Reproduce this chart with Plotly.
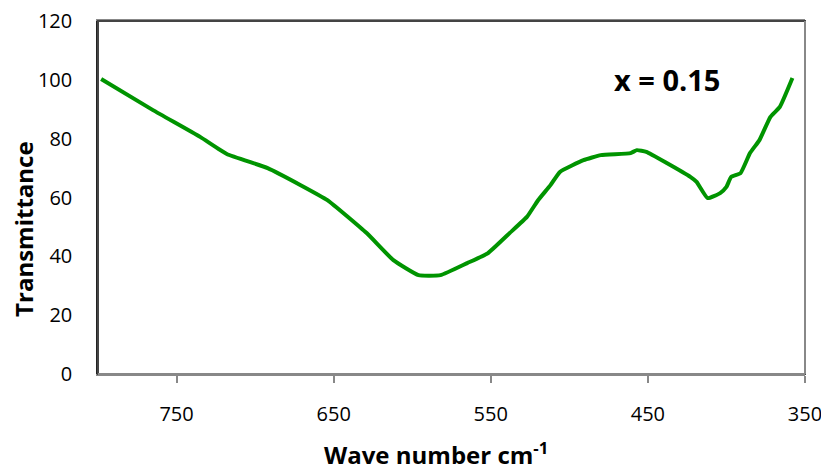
import plotly.graph_objects as go

wavenumber = [798, 765, 735, 718, 692, 671, 654, 629, 612, 596, 582, 565, 552, 538, 527, 520,
              512, 506, 491, 480, 461, 457, 451, 438, 423, 419, 412, 404, 400, 397, 391, 385,
              379, 372, 366, 358]
transmittance = [100.3, 89.7, 80.6, 74.8, 70.0, 64.2, 59.1, 47.9, 38.7, 33.6, 33.6, 37.7, 41.0,
                 47.9, 53.4, 59.0, 64.2, 68.7, 72.7, 74.4, 75.1, 76.1, 75.5, 71.7, 67.0, 65.3,
                 59.8, 61.5, 63.6, 67.0, 68.3, 75.1, 79.5, 87.4, 90.8, 100.6]
x_ticks = [750, 650, 550, 450, 350]
y_ticks = [0, 20, 40, 60, 80, 100, 120]

fig = go.Figure()
fig.add_trace(go.Scatter(x=wavenumber, y=transmittance, mode="lines",
                         line=dict(color="#009400", width=4, shape="spline", smoothing=0.4),
                         showlegend=False, cliponaxis=False))

fig.add_annotation(x=0.8055, y=0.833, xref="paper", yref="paper", text="<b>x = 0.15</b>",
                   xanchor="center", yanchor="middle",
                   showarrow=False, font=dict(size=29, color="black", family="Open Sans"))
fig.add_annotation(x=0.478, y=-0.226, xref="paper", yref="paper",
                   xanchor="center", yanchor="middle",
                   text="<b>Wave number cm<sup>-1</sup></b>", showarrow=False,
                   font=dict(size=24, color="black", family="Open Sans"))
fig.add_annotation(x=-0.1047, y=0.411, xref="paper", yref="paper",
                   xanchor="center", yanchor="middle",
                   text="<b>Transmittance</b>", showarrow=False, textangle=-90,
                   font=dict(size=24, color="black", family="Open Sans"))

fig.add_shape(type="rect", xref="paper", yref="paper", x0=0, x1=1, y0=0, y1=1,
              line=dict(color="#444444", width=2), fillcolor="rgba(0,0,0,0)", layer="above")
fig.add_shape(type="line", xref="paper", yref="paper", x0=1, x1=1, y0=0, y1=1,
              line=dict(color="#888888", width=2), layer="above")
fig.add_shape(type="line", xref="paper", yref="paper", x0=0, x1=1, y0=0, y1=0,
              line=dict(color="#888888", width=2), layer="above")

fig.update_layout(
    width=821, height=464,
    margin=dict(l=90, r=24, t=13, b=98),
    plot_bgcolor="white", paper_bgcolor="white",
    font=dict(family="Open Sans", size=20, color="black"),
    xaxis=dict(range=[800, 350], tickvals=x_ticks, showgrid=False, zeroline=False,
               showline=True, linecolor="#888888", linewidth=2, automargin=False,
               mirror=True,
               ticks="outside", ticklen=7, tickcolor="#888888", tickwidth=1.5,
               ticklabelstandoff=14, ticklabeloverflow="allow"),
    yaxis=dict(range=[0, 120], tickvals=y_ticks, showgrid=False, zeroline=False,
               showline=True, linecolor="#222222", linewidth=1.5, ticks="",
               automargin=False, ticklabelstandoff=20, ticklabeloverflow="allow"),
)

fig.write_html("out.html")
